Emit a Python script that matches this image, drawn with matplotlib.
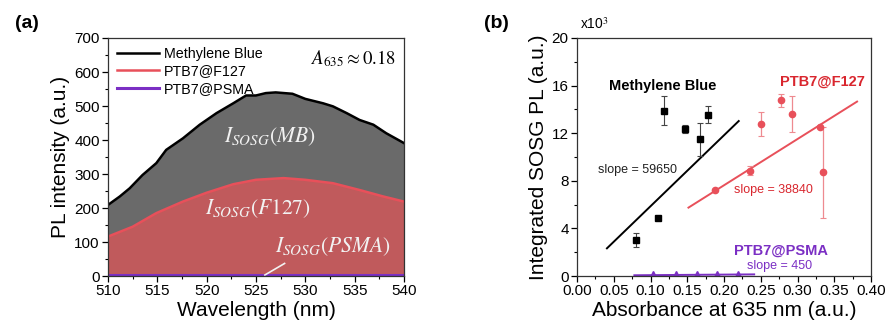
import matplotlib
matplotlib.use("Agg")
import matplotlib.pyplot as plt
import numpy as np
from matplotlib.ticker import MultipleLocator, FormatStrFormatter

plt.rcParams['font.family'] = ['Liberation Sans', 'DejaVu Sans']
plt.rcParams['mathtext.fontset'] = 'stix'

# ---- panel (a): SOSG emission spectra ----
wl_mb = [510, 511.2, 512.2, 513.5, 514.9, 515.9, 517.6, 519.3, 521, 522.7, 524, 525,
         526, 527, 528.7, 530, 531.8, 532.8, 534.2, 535.5, 536.9, 538.2, 540]
pl_mb = [209, 234, 258, 297, 332, 371, 405, 445, 479, 508, 531, 531,
         538, 540, 536, 521, 508, 499, 479, 459, 445, 420, 391]
wl_f127 = [510, 512.5, 514.9, 517.6, 520, 522.7, 525, 527.8, 530, 532.8, 535.5, 537.9, 540]
pl_f127 = [116, 145, 185, 219, 245, 270, 283, 288, 283, 273, 253, 234, 219]
wl_psma = [510, 540]
pl_psma = [3, 3]

# ---- panel (b): integrated SOSG PL vs absorbance (x10^3) ----
abs_mb = [0.080, 0.1095, 0.1186, 0.1475, 0.167, 0.178]
int_mb = [3.03, 4.85, 13.9, 12.34, 11.5, 13.55]
err_mb = [0.56, 0.1, 1.2, 0.35, 1.4, 0.7]
abs_f127 = [0.1878, 0.236, 0.2498, 0.2778, 0.2928, 0.331, 0.334]
int_f127 = [7.24, 8.86, 12.79, 14.75, 13.63, 12.48, 8.70]
err_f127 = [0.1, 0.4, 1.0, 0.55, 1.5, 0.0, 3.85]
abs_psma = [0.103, 0.134, 0.163, 0.190, 0.219]
int_psma = [0.10, 0.10, 0.10, 0.10, 0.10]

slope_mb, icpt_mb, span_mb = 59650, -0.10, (0.0407, 0.220)
slope_f127, icpt_f127, span_f127 = 38840, -0.14, (0.1516, 0.381)
slope_psma, icpt_psma, span_psma = 450, 0.03, (0.078, 0.241)

BLACK = '#000000'
RED = '#e8505a'
RED_FILL = '#c05a5c'
GRAY_FILL = '#6a6a6a'
PURPLE = '#7b2fc4'

fig = plt.figure(figsize=(8.88, 3.29), dpi=100)
axa = fig.add_axes([0.1216, 0.161, 0.3333, 0.7235])
axb = fig.add_axes([0.6498, 0.161, 0.3311, 0.7235])

for ax in (axa, axb):
    ax.tick_params(which='both', direction='out', labelsize=11, top=False, right=False, pad=2)
    ax.tick_params(which='major', length=4, width=0.9)
    ax.tick_params(which='minor', length=2.5, width=0.8)
    for s in ax.spines.values():
        s.set_linewidth(0.9)
        s.set_color('#333333')

# panel (a)
axa.fill_between(wl_mb, 0, pl_mb, color=GRAY_FILL, lw=0)
axa.fill_between(wl_f127, 0, pl_f127, color=RED_FILL, lw=0)
axa.plot(wl_mb, pl_mb, color=BLACK, lw=1.8, label='Methylene Blue')
axa.plot(wl_f127, pl_f127, color=RED, lw=1.8, label='PTB7@F127')
axa.plot(wl_psma, pl_psma, color=PURPLE, lw=2.2, label='PTB7@PSMA')
axa.set_xlim(510, 540)
axa.set_ylim(0, 700)
axa.xaxis.set_major_locator(MultipleLocator(5))
axa.xaxis.set_minor_locator(MultipleLocator(2.5))
axa.yaxis.set_major_locator(MultipleLocator(100))
axa.yaxis.set_minor_locator(MultipleLocator(50))
axa.set_xlabel('Wavelength (nm)', fontsize=15, labelpad=2)
axa.set_ylabel('PL intensity (a.u.)', fontsize=15, labelpad=3)
axa.legend(loc='upper left', frameon=False, fontsize=10.3, handlelength=3.0,
           handletextpad=0.3, labelspacing=0.25, borderaxespad=0.2,
           bbox_to_anchor=(0.0, 1.0))
axa.text(534.9, 638, r'$A_{635} \approx 0.18$', fontsize=13.5, ha='center', va='center')
tc = '#f2f2f2'
axa.text(526.4, 410, r'$I_{SOSG}(MB)$', fontsize=15.5, color=tc, ha='center', va='center')
axa.text(525.2, 199, r'$I_{SOSG}(F127)$', fontsize=15.5, color=tc, ha='center', va='center')
axa.text(532.8, 86, r'$I_{SOSG}(PSMA)$', fontsize=15.5, color=tc, ha='center', va='center')
axa.plot([525.9, 527.9], [3, 37], color=tc, lw=1.2)

# panel (b)
def fit_line(ax, slope, icpt, span, color):
    xs = np.array(span)
    ax.plot(xs, slope / 1000.0 * xs + icpt, color=color, lw=1.4)

fit_line(axb, slope_mb, icpt_mb, span_mb, BLACK)
fit_line(axb, slope_f127, icpt_f127, span_f127, RED)
fit_line(axb, slope_psma, icpt_psma, span_psma, PURPLE)
axb.errorbar(abs_mb, int_mb, yerr=err_mb, fmt='s', color=BLACK, ms=4.5,
             ecolor='#444444', elinewidth=0.8, capsize=2, capthick=0.8)
axb.errorbar(abs_f127, int_f127, yerr=err_f127, fmt='o', color=RED, ms=4.5,
             ecolor='#ee8a90', elinewidth=0.9, capsize=2, capthick=0.8)
axb.plot(abs_psma, int_psma, '^', color=PURPLE, ms=5.5)
axb.set_xlim(0, 0.40)
axb.set_ylim(0, 20)
axb.xaxis.set_major_locator(MultipleLocator(0.05))
axb.xaxis.set_minor_locator(MultipleLocator(0.025))
axb.xaxis.set_major_formatter(FormatStrFormatter('%.2f'))
axb.yaxis.set_major_locator(MultipleLocator(4))
axb.yaxis.set_minor_locator(MultipleLocator(2))
axb.set_xlabel('Absorbance at 635 nm (a.u.)', fontsize=15, labelpad=2)
axb.set_ylabel('Integrated SOSG PL (a.u.)', fontsize=15, labelpad=3)
axb.text(0.01, 1.025, r'x10$^3$', transform=axb.transAxes, fontsize=10, ha='left', va='bottom')

axb.text(0.1163, 16.0, 'Methylene Blue', fontsize=10.5, fontweight='bold', color=BLACK,
         ha='center', va='center')
axb.text(0.334, 16.35, 'PTB7@F127', fontsize=10.5, fontweight='bold', color='#d9262e',
         ha='center', va='center')
axb.text(0.277, 2.13, 'PTB7@PSMA', fontsize=10.5, fontweight='bold', color=PURPLE,
         ha='center', va='center')
axb.text(0.275, 0.87, 'slope = 450', fontsize=9, color=PURPLE, ha='center', va='center')
axb.text(0.082, 8.92, 'slope = 59650', fontsize=9, color='#222222', ha='center', va='center')
axb.text(0.267, 7.24, 'slope = 38840', fontsize=9, color='#d9262e', ha='center', va='center')

fig.text(27 / 888, 1 - 23 / 329, '(a)', fontsize=14, fontweight='bold', ha='center', va='center')
fig.text(496 / 888, 1 - 23 / 329, '(b)', fontsize=14, fontweight='bold', ha='center', va='center')

fig.savefig('out.png', dpi=100)
